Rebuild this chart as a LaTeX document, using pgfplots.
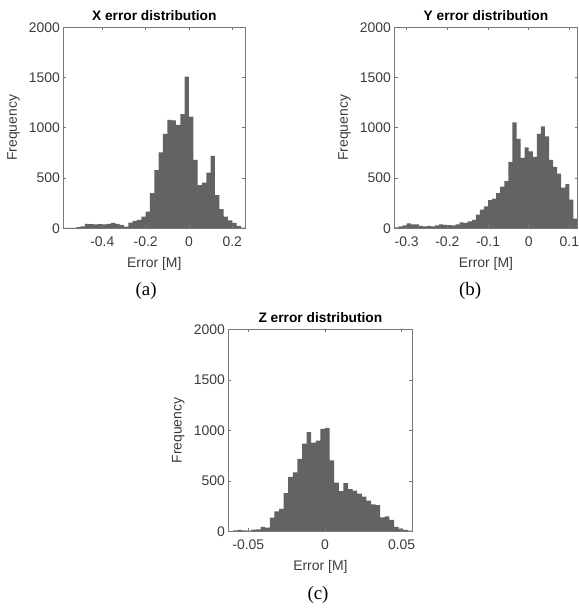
\documentclass[border=0pt]{standalone}
\usepackage{pgfplots}
\pgfplotsset{compat=1.18}
\usepackage{fontspec}
\setmainfont{Liberation Sans}
\newfontfamily\capfont{Liberation Serif}
\definecolor{barc}{RGB}{99,99,99}
\definecolor{axc}{RGB}{120,120,120}
\definecolor{lbl}{RGB}{60,60,60}
\pgfplotsset{
  histax/.style={
    scale only axis, anchor=south west, clip=false,
    ymin=0, ymax=2000,
    ytick={0,500,1000,1500,2000}, yticklabels={0,500,1000,1500,2000},
    scaled x ticks=false, scaled y ticks=false,
    tick align=inside, major tick length=3bp,
    axis on top,
    axis line style={draw=axc, line width=0.8bp},
    every tick/.style={draw=axc, line width=0.6bp},
    tick label style={font=\fontsize{14}{16}\selectfont, text=lbl},
    xticklabel style={yshift=-5bp},
    label style={font=\fontsize{14}{16}\selectfont, text=lbl},
    xlabel={Error [M]}, ylabel={Frequency},
    xlabel style={at={(axis description cs:0.5,-0.177)}, anchor=center},
    ylabel style={at={(axis description cs:-0.273,0.5)}, anchor=center},
    title style={font=\fontsize{13.8}{16}\selectfont\bfseries, at={(axis description cs:0.5,1)}, anchor=base, yshift=1bp},
  },
  bars/.style={ybar interval, fill=barc, draw=none},
}
\begin{document}
\begin{tikzpicture}
\path[use as bounding box] (0,0) rectangle (579bp,610bp);
% (a)
\begin{axis}[histax, at={(63.3bp,381.7bp)}, width=182bp, height=201bp,
  xmin=-0.58, xmax=0.26, xtick={-0.4,-0.2,0,0.2}, xticklabels={-0.4,-0.2,0,0.2},
  title={X error distribution}]
\addplot[bars] coordinates {
(-0.58,3) (-0.56,3) (-0.54,5) (-0.52,12) (-0.50,18) (-0.48,45) (-0.46,42) (-0.44,40)
(-0.42,42) (-0.40,40) (-0.38,45) (-0.36,55) (-0.34,45) (-0.32,33) (-0.30,17) (-0.28,56)
(-0.26,73) (-0.24,83) (-0.22,116) (-0.20,166) (-0.18,350) (-0.16,580) (-0.14,755) (-0.12,940)
(-0.10,1080) (-0.08,1075) (-0.06,1030) (-0.04,1135) (-0.02,1510) (0.00,1110) (0.02,680) (0.04,430)
(0.06,455) (0.08,555) (0.10,720) (0.12,330) (0.14,190) (0.16,115) (0.18,80) (0.20,55)
(0.22,25) (0.24,7) (0.26,0)};
\node[font=\capfont\fontsize{19}{22}\selectfont, anchor=base, text=black] at (axis description cs:0.455,-0.335) {(a)};
\end{axis}
% (b)
\begin{axis}[histax, at={(394.5bp,381.7bp)}, width=183bp, height=201bp,
  xmin=-0.33, xmax=0.12, xtick={-0.3,-0.2,-0.1,0,0.1}, xticklabels={-0.3,-0.2,-0.1,0,0.1},
  title={Y error distribution}]
\addplot[bars] coordinates {
(-0.33,10) (-0.32,20) (-0.31,28) (-0.30,50) (-0.29,40) (-0.28,40) (-0.27,25) (-0.26,20)
(-0.25,25) (-0.24,18) (-0.23,28) (-0.22,38) (-0.21,35) (-0.20,32) (-0.19,28) (-0.18,40)
(-0.17,60) (-0.16,55) (-0.15,68) (-0.14,85) (-0.13,135) (-0.12,185) (-0.11,218) (-0.10,280)
(-0.09,295) (-0.08,350) (-0.07,415) (-0.06,470) (-0.05,660) (-0.04,1055) (-0.03,890) (-0.02,700)
(-0.01,805) (0.00,765) (0.01,710) (0.02,940) (0.03,1015) (0.04,915) (0.05,680) (0.06,610)
(0.07,545) (0.08,405) (0.09,440) (0.10,285) (0.11,95) (0.12,0)};
\node[font=\capfont\fontsize{19}{22}\selectfont, anchor=base, text=black] at (axis description cs:0.413,-0.335) {(b)};
\end{axis}
% (c)
\begin{axis}[histax, at={(228.4bp,78.5bp)}, width=184bp, height=202bp,
  xmin=-0.063, xmax=0.057, xtick={-0.05,0,0.05}, xticklabels={-0.05,0,0.05},
  title={Z error distribution}]
\addplot[bars] coordinates {
(-0.063,3) (-0.060,10) (-0.057,15) (-0.054,12) (-0.051,8) (-0.048,18) (-0.045,20) (-0.042,45)
(-0.039,38) (-0.036,138) (-0.033,200) (-0.030,225) (-0.027,380) (-0.024,540) (-0.021,585) (-0.018,720)
(-0.015,870) (-0.012,985) (-0.009,880) (-0.006,900) (-0.003,1015) (0.000,1025) (0.003,705) (0.006,485)
(0.009,400) (0.012,480) (0.015,420) (0.018,405) (0.021,375) (0.024,345) (0.027,305) (0.030,268)
(0.033,262) (0.036,140) (0.039,150) (0.042,115) (0.045,45) (0.048,28) (0.051,15) (0.054,8)
(0.057,0)};
\node[font=\capfont\fontsize{19}{22}\selectfont, anchor=base, text=black] at (axis description cs:0.487,-0.338) {(c)};
\end{axis}
\end{tikzpicture}
\end{document}
